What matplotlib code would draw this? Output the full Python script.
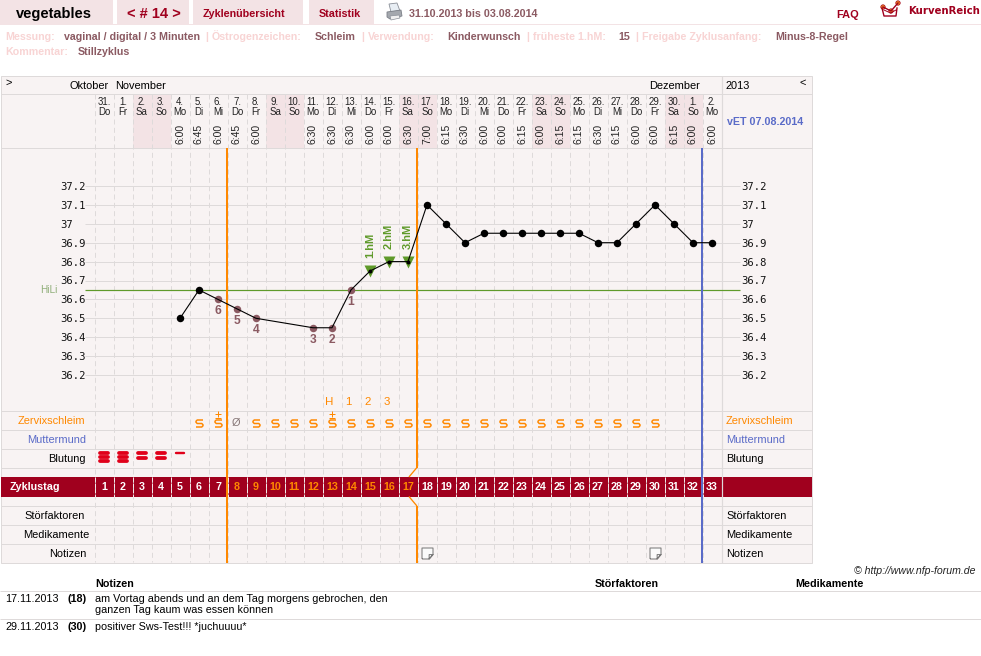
import matplotlib
matplotlib.use('Agg')
import matplotlib.pyplot as plt
from matplotlib.patches import Rectangle, Polygon, Circle
from matplotlib.path import Path
from matplotlib.transforms import blended_transform_factory

plt.rcParams['font.family'] = ['Liberation Sans', 'DejaVu Sans']
plt.rcParams['lines.scale_dashes'] = False

# Zyklus-Daten
dates = ['31.', '1.', '2.', '3.', '4.', '5.', '6.', '7.', '8.', '9.', '10.', '11.', '12.', '13.', '14.', '15.', '16.',
         '17.', '18.', '19.', '20.', '21.', '22.', '23.', '24.', '25.', '26.', '27.', '28.', '29.', '30.', '1.', '2.']
weekdays = ['Do', 'Fr', 'Sa', 'So', 'Mo', 'Di', 'Mi', 'Do', 'Fr', 'Sa', 'So', 'Mo', 'Di', 'Mi', 'Do', 'Fr', 'Sa',
            'So', 'Mo', 'Di', 'Mi', 'Do', 'Fr', 'Sa', 'So', 'Mo', 'Di', 'Mi', 'Do', 'Fr', 'Sa', 'So', 'Mo']
times = ['', '', '', '', '6:00', '6:45', '6:00', '6:45', '6:00', '', '', '6:30', '6:30', '6:30', '6:00', '6:00', '6:30',
         '7:00', '6:15', '6:30', '6:00', '6:00', '6:15', '6:00', '6:15', '6:15', '6:30', '6:15', '6:00', '6:00', '6:15',
         '6:00', '6:00']

temp_days = [5, 6, 7, 8, 9, 12, 13, 14, 15, 16, 17, 18, 19, 20, 21, 22, 23, 24, 25, 26, 27, 28, 29, 30, 31, 32, 33]
temps = [36.5, 36.65, 36.6, 36.55, 36.5, 36.45, 36.45, 36.65, 36.75, 36.8, 36.8, 37.1, 37.0, 36.9, 36.95, 36.95,
         36.95, 36.95, 36.95, 36.95, 36.9, 36.9, 37.0, 37.1, 37.0, 36.9, 36.9]
hili = 36.65
low_days = [7, 8, 9, 12, 13, 14]
low_nums = ['6', '5', '4', '3', '2', '1']
hm_days = [15, 16, 17]
hm_labels = ['1.hM', '2.hM', '3.hM']
tick_vals = [36.2, 36.3, 36.4, 36.5, 36.6, 36.7, 36.8, 36.9, 37.0, 37.1, 37.2]
tick_labels = ['36.2', '36.3', '36.4', '36.5', '36.6', '36.7', '36.8', '36.9', '37', '37.1', '37.2']

mucus_days = [6, 7] + list(range(9, 31))
mucus_plus = [7, 13]
mucus_none = [8]
peak_days = [13, 14, 15, 16]
peak_labels = ['H', '1', '2', '3']
bleed_days = [1, 2, 3, 4, 5]
bleed_levels = [3, 3, 2, 2, 1]
note_days = [18, 30]
fertile_days = list(range(8, 18))

BG = '#f8f3f3'
GRID = '#dedada'
TAB = '#f3e3e5'
RED = '#a0001e'
ORANGE = '#ff8800'
BLUE = '#5a6bc8'
GREEN = '#5f9a2a'
BROWN = '#8b5a62'
PINK = '#f8d4d4'


def px(n):
    return n * 0.72


fig = plt.figure(figsize=(9.81, 6.56), dpi=100, facecolor='white')
bg = fig.add_axes([0, 0, 1, 1])
bg.set_xlim(0, 981)
bg.set_ylim(656, 0)
bg.axis('off')

# Temperaturkurve mit eigener Skala
ax = fig.add_axes([94.5 / 981, 1 - 411 / 656, 627 / 981, 263 / 656], zorder=2)
ax.patch.set_alpha(0)
ax.set_xlim(0.5, 33.5)
ax.set_ylim(37.2 - 225 / 189, 37.2 + 38 / 189)
for s in ax.spines.values():
    s.set_visible(False)
ax.set_xticks([])
ax.set_yticks(tick_vals)
ax.set_yticklabels(tick_labels, family='DejaVu Sans Mono', fontsize=px(10.5), color='#111111', ha='left')
ax.tick_params(axis='y', length=0, pad=px(34.5))

# rechte Skala
ax_r = ax.twinx()
ax_r.set_ylim(ax.get_ylim())
ax_r.patch.set_alpha(0)
for s in ax_r.spines.values():
    s.set_visible(False)
ax_r.set_yticks(tick_vals)
ax_r.set_yticklabels(tick_labels, family='DejaVu Sans Mono', fontsize=px(10.5), color='#111111', ha='left')
ax_r.tick_params(axis='y', length=0, pad=px(20))

# x in Zyklustagen, y in Pixeln
row = blended_transform_factory(ax.transData, bg.transData)


def txt(x, y, s, size=10.7, color='black', weight='normal', **kw):
    return bg.text(x, y, s, fontsize=px(size), color=color, weight=weight, va=kw.pop('va', 'baseline'), **kw)


# Kopfzeile
for x0, x1 in [(0, 113), (117, 189), (193, 303), (309, 374)]:
    bg.add_patch(Rectangle((x0, 0), x1 - x0, 23.5, fc=TAB, ec='none'))
bg.add_patch(Rectangle((0, 23.5), 981, 1.7, fc=TAB, ec='none'))
txt(16, 18, 'vegetables', 14.6, 'black', 'bold')
txt(127, 18, '< # 14 >', 14.6, RED, 'bold')
txt(203, 17, 'Zyklenübersicht', 10.7, RED, 'bold')
txt(319, 17, 'Statistik', 10.7, RED, 'bold')
txt(409, 17, '31.10.2013 bis 03.08.2014', 10.7, BROWN, 'bold')
txt(836, 18, 'FAQ', 11, RED, 'bold')
txt(908, 14, 'KurvenReich', 10.1, RED, 'bold', family='DejaVu Sans')

# Drucker
bg.add_patch(Polygon([(389, 4), (397, 3), (400, 11), (391, 12)], fc='#e8eef4', ec='#8a8f98', lw=0.6))
bg.add_patch(Polygon([(387, 12), (401, 10), (402, 16), (390, 19), (387, 17)], fc='#a4a8ae', ec='#7a7e86', lw=0.6))
bg.add_patch(Polygon([(390, 16), (399, 15), (400, 18), (391, 20)], fc='#f0f0f0', ec='#8a8f98', lw=0.5))

# Logo
bg.plot([882, 884, 896, 897], [8, 16, 16, 8], color=RED, lw=1)
bg.plot([884, 890.5, 896], [10, 13, 10], color=RED, lw=0.7)
bg.plot([883, 891, 898], [7, 11, 3], color=RED, lw=1)
for cx, cy in [(883, 7), (891, 11), (898, 3)]:
    bg.add_patch(Circle((cx, cy), 2.2, fc='#f08a20', ec=RED, lw=0.5))

# Angaben zur Messung
for x, y, s, c in [(5, 40, 'Messung:', PINK), (64, 40, 'vaginal / digital / 3 Minuten', BROWN), (205, 40, '|', PINK),
                   (212, 40, 'Östrogenzeichen:', PINK), (315, 40, 'Schleim', BROWN), (361, 40, '|', PINK),
                   (368, 40, 'Verwendung:', PINK), (447, 40, 'Kinderwunsch', BROWN), (526, 40, '|', PINK),
                   (533, 40, 'früheste 1.hM:', PINK), (618, 40, '15', BROWN), (635, 40, '|', PINK),
                   (642, 40, 'Freigabe Zyklusanfang:', PINK), (775, 40, 'Minus-8-Regel', BROWN),
                   (5, 55, 'Kommentar:', PINK), (78, 55, 'Stillzyklus', BROWN)]:
    txt(x, y, s, 10.6, c, 'bold')

# Tabelle
bg.add_patch(Rectangle((0.5, 75.5), 811, 487, fc=BG, ec=GRID, lw=px(1)))
bg.hlines([93.5, 147.5, 410.5, 429.5, 448.5, 467.5, 505.5, 524.5, 543.5], 0.5, 811.5, color=GRID, lw=px(1))
bg.vlines(722, 75.5, 562.5, color=GRID, lw=px(1.2))

weekend = [d + 1 for d, w in enumerate(weekdays) if w in ('Sa', 'So')]
for d in weekend:
    bg.add_patch(Rectangle((d - 0.5, 94), 1, 53.5, transform=row, fc=TAB, ec='none'))

col_edges = [d + 0.5 for d in range(0, 33)]
bg.vlines(col_edges, 94, 562, transform=row, color=GRID, lw=px(1), linestyles=[(0, (3.6, 2.4))])

bg.add_patch(Rectangle((0.5, 477), 811, 19.5, fc=RED, ec='none'))
bg.vlines(col_edges, 477, 496.5, transform=row, color='#f4e8ea', lw=px(1), linestyles=[(0, (2.9, 1.4))])

txt(5, 86, '>', 11)
txt(800, 86, '<', 11)
txt(70, 89, 'Oktober', 11)
txt(115, 89, 'November', 11)
txt(649, 89, 'Dezember', 11)
txt(725, 89, '2013', 11)
txt(727, 125, 'vET 07.08.2014', 10.6, BLUE, 'bold')

for i in range(33):
    d = i + 1
    txt(d, 105, dates[i], 9.6, '#222222', ha='center', transform=row)
    txt(d, 115, weekdays[i], 9.6, '#222222', ha='center', transform=row)
    if times[i]:
        txt(d, 144.5, times[i], 10.4, '#222222', ha='center', va='bottom', rotation=90, transform=row)
    c = ORANGE if d in fertile_days else 'white'
    txt(d, 490, str(d), 10.6, c, 'bold', ha='center', transform=row)

txt(10, 490, 'Zyklustag', 10.8, 'white', 'bold')
for y, s, c, r in [(424, 'Zervixschleim', ORANGE, 85), (443, 'Muttermund', BLUE, 86), (462, 'Blutung', 'black', 86),
                   (519, 'Störfaktoren', 'black', 85), (538, 'Medikamente', 'black', 89), (557, 'Notizen', 'black', 86)]:
    txt(r, y, s, 11, c, ha='right')
    txt(726, y, s, 11, c)
txt(40, 293, 'HiLi', 10, '#8fae78')

# Gitter und Hochlage
ax.hlines(tick_vals, 0, 34.47, color=GRID, lw=px(1), clip_on=False, zorder=1)
ax.hlines(hili, 0, 34.47, color=GREEN, lw=px(1.2), clip_on=False, zorder=2)

# Senkrechte Linien
ax.plot([7.47, 7.47], [148, 563], transform=row, color=ORANGE, lw=px(2), clip_on=False, zorder=3, solid_capstyle='butt')
ax.plot([17.47, 17.47], [148, 467.5], transform=row, color=ORANGE, lw=px(2), clip_on=False, zorder=3,
        solid_capstyle='butt')
ax.plot([17.47, 17.05], [467.5, 477], transform=row, color=ORANGE, lw=px(1.3), clip_on=False, zorder=3,
        solid_capstyle='butt')
ax.plot([17.05, 17.47], [496.5, 506], transform=row, color=ORANGE, lw=px(1.3), clip_on=False, zorder=3,
        solid_capstyle='butt')
ax.plot([17.47, 17.47], [506, 563], transform=row, color=ORANGE, lw=px(2), clip_on=False, zorder=3,
        solid_capstyle='butt')
ax.plot([32.47, 32.47], [148, 563], transform=row, color=BLUE, lw=px(2), clip_on=False, zorder=3, solid_capstyle='butt')

# Kurve
low_t = [temps[temp_days.index(d)] for d in low_days]
hm_t = [temps[temp_days.index(d)] for d in hm_days]
other_d = [d for d in temp_days if d not in low_days and d not in hm_days]
other_t = [temps[temp_days.index(d)] for d in other_d]
ax.plot(hm_days, hm_t, 'v', color=GREEN, ms=px(11.5), mec='none', zorder=4, clip_on=False)
ax.plot(low_days, low_t, 'o', color=BROWN, ms=px(7.5), mec='none', zorder=4)
ax.plot(temp_days, temps, color='black', lw=px(1.1), zorder=5)
ax.plot(other_d, other_t, 'o', color='black', ms=px(7.5), mec='none', zorder=6)
ax.plot(hm_days, hm_t, 'o', color='black', ms=px(4), mec='none', zorder=6)
for d, t, s in zip(low_days, low_t, low_nums):
    ax.annotate(s, (d, t), xytext=(0, px(-12)), textcoords='offset points', ha='center', va='center',
                fontsize=px(12), color=BROWN, weight='bold', zorder=7)
for d, t, s in zip(hm_days, hm_t, hm_labels):
    ax.annotate(s, (d, t), xytext=(0, px(13)), textcoords='offset points', ha='center', va='bottom',
                rotation=90, fontsize=px(11), color=GREEN, weight='bold', zorder=7)

# Schleimzeichen
s_mark = Path([(0.85, 0.85), (-0.55, 0.85), (-0.85, 0.55), (-0.85, 0.3), (-0.55, 0.0), (0.55, 0.0), (0.85, -0.3),
               (0.85, -0.55), (0.55, -0.85), (-0.85, -0.85)])
s_days = sorted(set(mucus_days))
ax.plot(s_days, [422.5] * len(s_days), transform=row, ls='none', marker=s_mark, ms=px(7), mfc='none', mec=ORANGE,
        mew=px(1.5), clip_on=False, zorder=4)
ax.plot(mucus_plus, [413.8] * len(mucus_plus), '+', transform=row, ms=px(5.5), mec=ORANGE, mew=px(1), clip_on=False)
ax.plot(mucus_plus, [417.5] * len(mucus_plus), '_', transform=row, ms=px(6), mec=ORANGE, mew=px(1), clip_on=False)
for d in mucus_none:
    txt(d - 0.05, 426, 'Ø', 11, '#857575', ha='center', transform=row, zorder=4)
for d, s in zip(peak_days, peak_labels):
    txt(d - 0.14, 405, s, 11.5, ORANGE, ha='center', transform=row)

# Blutung
stack = {3: [452.7, 457, 461.3], 2: [453.3, 457.7], 1: [453.3]}
for d, n in zip(bleed_days, bleed_levels):
    ax.hlines(stack[n], d - 0.2, d + 0.2, transform=row, color='#e0001a', lw=px(3.8 if n > 1 else 2.4),
              capstyle='round', clip_on=False, zorder=4)

# Notizzettel
note_mark = Path([(-1, -1), (0.3, -1), (1, -0.2), (0.3, -0.2), (0.3, -1), (1, -0.2), (1, 1), (-1, 1), (-1, -1)])
ax.plot(note_days, [552.5] * len(note_days), transform=row, ls='none', marker=note_mark, ms=px(11), mfc='#fbfbfb',
        mec='#777777', mew=px(1), clip_on=False, zorder=4)

# Notizen unter der Tabelle
txt(976, 574, '© http://www.nfp-forum.de', 10.5, '#222222', ha='right', style='italic')
txt(95, 587, 'Notizen', 10.7, 'black', 'bold')
txt(595, 587, 'Störfaktoren', 10.7, 'black', 'bold')
txt(795, 587, 'Medikamente', 10.7, 'black', 'bold')
bg.hlines([590.5, 618.5], 0, 981, color=GRID, lw=px(1))
txt(5, 602, '17.11.2013')
txt(68, 602, '(18)', 10.7, 'black', 'bold')
txt(95, 602, 'am Vortag abends und an dem Tag morgens gebrochen, den')
txt(95, 613, 'ganzen Tag kaum was essen können')
txt(5, 630, '29.11.2013')
txt(68, 630, '(30)', 10.7, 'black', 'bold')
txt(95, 630, 'positiver Sws-Test!!! *juchuuuu*')

fig.savefig('out.png', dpi=100, facecolor='white')
